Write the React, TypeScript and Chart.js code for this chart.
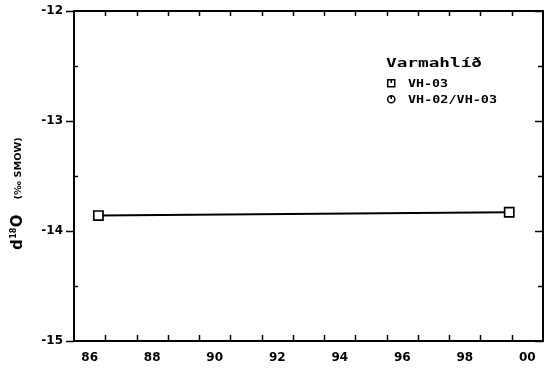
import React, { useEffect, useRef } from "react";
import { Chart, registerables } from "chart.js";

Chart.register(...registerables);

// ---- data ----
const seriesNames = ["VH-03", "VH-02/VH-03"];
const vh03Years = [86.28, 99.42];
const vh03Values = [-13.86, -13.83];
const vh0203Years: number[] = [];
const vh0203Values: number[] = [];
const legendTitle = "Varmahlíð";
const xLabelYears = [86, 88, 90, 92, 94, 96, 98, 100];
const xLabelText = ["86", "88", "90", "92", "94", "96", "98", "00"];
const xMinorTicks = [86.5, 87.5, 88.5, 89.5, 90.5, 91.5, 92.5, 93.5, 94.5, 95.5, 96.5, 97.5, 98.5, 99.5];
const yTicks = [-15, -14, -13, -12];
const yMinorTicks = [-14.5, -13.5, -12.5];
const xMin = 85.5;
const xMax = 100.5;
const yMin = -15;
const yMax = -12;

const MONO = '"DejaVu Sans Mono", monospace';
const SANS = '"DejaVu Sans", sans-serif';

function drawWide(ctx: CanvasRenderingContext2D, text: string, x: number, y: number, font: string, width: number) {
  ctx.font = font;
  const w = ctx.measureText(text).width;
  const sx = width / w;
  ctx.save();
  ctx.translate(x, y);
  ctx.scale(sx, 1);
  ctx.fillText(text, 0, 0);
  ctx.restore();
}

const framePlugin = {
  id: "frame",
  afterDraw(chart: any) {
    const { ctx, chartArea: a, scales } = chart;
    const xs = scales.x;
    const ys = scales.y;
    ctx.save();
    ctx.strokeStyle = "#000";
    ctx.lineWidth = 2;
    ctx.strokeRect(a.left, a.top, a.right - a.left, a.bottom - a.top);
    ctx.lineWidth = 1.5;
    ctx.beginPath();
    for (const v of xMinorTicks) {
      const px = Math.round(xs.getPixelForValue(v)) + 0.5;
      ctx.moveTo(px, a.top);
      ctx.lineTo(px, a.top + 5);
      ctx.moveTo(px, a.bottom);
      ctx.lineTo(px, a.bottom - 6);
    }
    for (const v of yTicks) {
      const py = Math.round(ys.getPixelForValue(v)) + 0.5;
      ctx.moveTo(a.left - 8, py);
      ctx.lineTo(a.left, py);
      ctx.moveTo(a.right, py);
      ctx.lineTo(a.right - 8, py);
    }
    for (const v of yMinorTicks) {
      const py = Math.round(ys.getPixelForValue(v)) + 0.5;
      ctx.moveTo(a.left, py);
      ctx.lineTo(a.left + 4, py);
      ctx.moveTo(a.right, py);
      ctx.lineTo(a.right - 5, py);
    }
    ctx.stroke();

    // y-axis title: d18O (‰ SMOW), rotated, reading upward
    ctx.save();
    ctx.fillStyle = "#000";
    ctx.textBaseline = "alphabetic";
    ctx.translate(22, 250);
    ctx.rotate(-Math.PI / 2);
    let cx = 0;
    ctx.font = `bold 15px ${SANS}`;
    ctx.fillText("d", cx, 0);
    cx += ctx.measureText("d").width + 0.5;
    ctx.font = `bold 8px ${SANS}`;
    ctx.fillText("18", cx, -6);
    cx += ctx.measureText("18").width + 0.5;
    ctx.font = `bold 15px ${SANS}`;
    ctx.fillText("O", cx, 0);
    cx += ctx.measureText("O").width + 15;
    drawWide(ctx, "(‰ SMOW)", cx, -1, `bold 9px ${SANS}`, 62);
    ctx.restore();

    // legend
    const lx = 387;
    ctx.fillStyle = "#000";
    ctx.textBaseline = "alphabetic";
    drawWide(ctx, legendTitle, 386, 67, `bold 13px ${MONO}`, 96);
    const rows = [87, 103];
    const textWidths = [40, 89];
    chart.data.datasets.forEach((ds: any, i: number) => {
      const yy = rows[i];
      ctx.lineWidth = 1.5;
      ctx.beginPath();
      if (i === 0) {
        ctx.rect(lx + 0.75, yy - 7.25, 7, 7);
      } else {
        ctx.arc(lx + 4.25, yy - 3.75, 3.6, 0, Math.PI * 2);
      }
      ctx.moveTo(lx + 4.25, yy - 7);
      ctx.lineTo(lx + 4.25, yy - 4);
      ctx.stroke();
      drawWide(ctx, ds.label, 408, yy, `bold 10.5px ${MONO}`, textWidths[i]);
    });
    ctx.restore();
  },
};

export default function App() {
  const ref = useRef<HTMLCanvasElement | null>(null);
  useEffect(() => {
    document.body.style.margin = "0";
    const canvas = ref.current!;
    const chart = new Chart(canvas, {
      type: "scatter",
      data: {
        datasets: [
          {
            label: seriesNames[0],
            data: vh03Years.map((x, i) => ({ x, y: vh03Values[i] })),
            showLine: true,
            borderColor: "#000",
            borderWidth: 2,
            pointStyle: "rect",
            pointRadius: 6.5,
            pointBorderWidth: 1.7,
            pointBackgroundColor: "#fff",
            pointBorderColor: "#000",
          },
          {
            label: seriesNames[1],
            data: vh0203Years.map((x, i) => ({ x, y: vh0203Values[i] })),
            showLine: true,
            borderColor: "#000",
            borderWidth: 2,
            pointStyle: "circle",
            pointRadius: 4.5,
            pointBackgroundColor: "#fff",
            pointBorderColor: "#000",
          },
        ],
      },
      options: {
        animation: false,
        responsive: false,
        maintainAspectRatio: false,
        layout: { autoPadding: false, padding: { top: 11, right: 3, left: 0, bottom: 0 } },
        plugins: {
          legend: { display: false },
          tooltip: { enabled: false },
        },
        scales: {
          x: {
            type: "linear",
            min: xMin,
            max: xMax,
            grid: { display: false, drawTicks: false },
            border: { display: false },
            afterBuildTicks: (s: any) => {
              s.ticks = xLabelYears.map((v) => ({ value: v }));
            },
            afterFit: (s: any) => {
              s.height = 27;
              s.paddingLeft = 0;
              s.paddingRight = 0;
            },
            ticks: {
              autoSkip: false,
              maxRotation: 0,
              padding: 10,
              color: "#000",
              font: { family: SANS, size: 12, weight: "bold" },
              callback: (v: any) => xLabelText[xLabelYears.indexOf(Number(v))] ?? "",
            },
          },
          y: {
            type: "linear",
            min: yMin,
            max: yMax,
            grid: { display: false, drawTicks: false },
            border: { display: false },
            afterBuildTicks: (s: any) => {
              s.ticks = yTicks.map((v) => ({ value: v }));
            },
            afterFit: (s: any) => {
              s.width = 74;
              s.paddingTop = 0;
              s.paddingBottom = 0;
            },
            ticks: {
              padding: 11,
              color: "#000",
              font: { family: SANS, size: 12, weight: "bold" },
              callback: (v: any) => String(v),
            },
          },
        },
      },
      plugins: [framePlugin],
    });
    return () => chart.destroy();
  }, []);
  return (
    <div style={{ width: 546, height: 368, background: "#fff" }}>
      <canvas ref={ref} width={546} height={368} style={{ display: "block" }} />
    </div>
  );
}
